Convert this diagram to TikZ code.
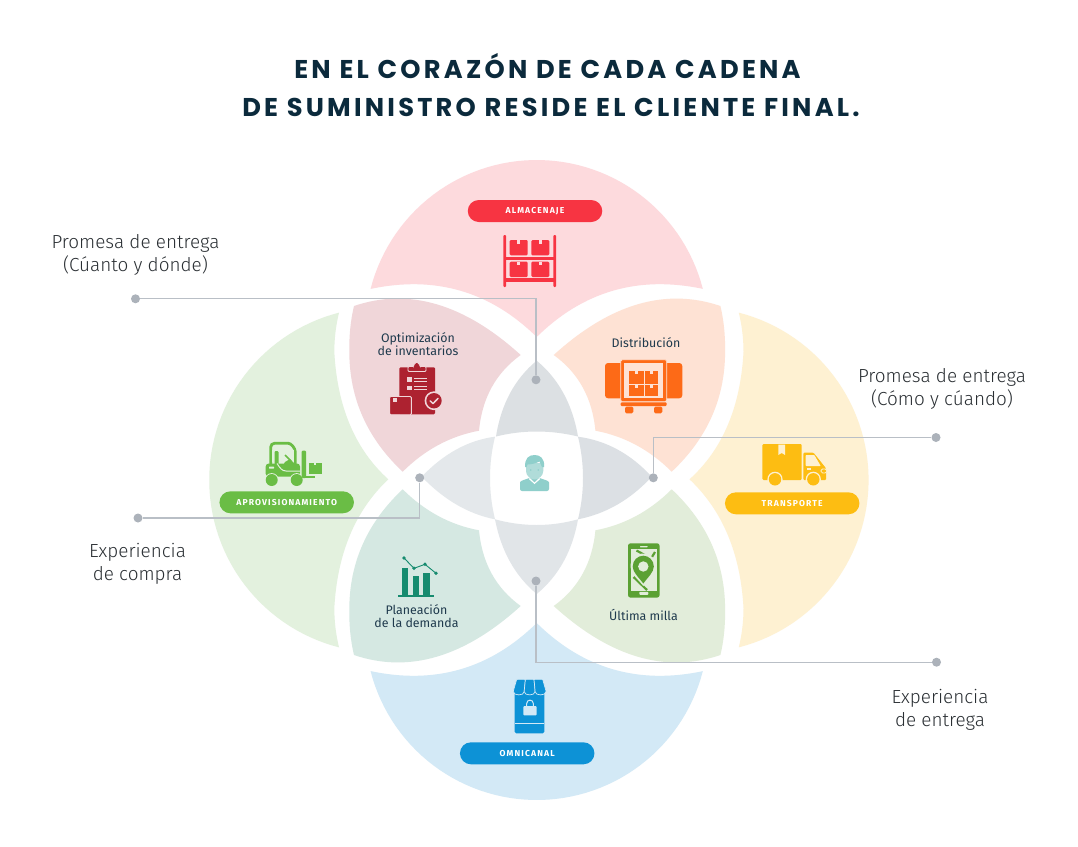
\documentclass[tikz,border=0pt]{standalone}
\usepackage{fontspec}
\setmainfont{Fira Sans}
\newfontfamily\lightfont{Fira Sans Light}
\newfontfamily\titlefont[LetterSpace=12.6]{Poppins}
\newfontfamily\pillfont[LetterSpace=13]{Fira Sans}
\definecolor{cpink}{HTML}{FDDADD}
\definecolor{cblue}{HTML}{D3E9F6}
\definecolor{cgreen}{HTML}{E3F1DE}
\definecolor{cyellow}{HTML}{FEF1D2}
\definecolor{coptim}{HTML}{F0D6D9}
\definecolor{cdist}{HTML}{FEE2D4}
\definecolor{cplan}{HTML}{D5E8E2}
\definecolor{cult}{HTML}{E2EDDA}
\definecolor{ltop}{HTML}{DCE0E3}
\definecolor{lright}{HTML}{DCE0E4}
\definecolor{lleft}{HTML}{E4E8EB}
\definecolor{lbot}{HTML}{E1E5E8}
\definecolor{cline}{HTML}{B9BFC6}
\definecolor{cdot}{HTML}{ACB2BA}
\definecolor{ink}{HTML}{0B2A3C}
\definecolor{lab}{HTML}{1F3A4D}
\definecolor{outer}{HTML}{2A2F33}
\definecolor{ired}{HTML}{F73442}
\definecolor{idark}{HTML}{AD2230}
\definecolor{iorange}{HTML}{FD6A17}
\definecolor{ilime}{HTML}{6ABD45}
\definecolor{iyellow}{HTML}{FDBD12}
\definecolor{iteal}{HTML}{168B6F}
\definecolor{iphone}{HTML}{5BA133}
\definecolor{iblue}{HTML}{0D92D6}
\definecolor{phair}{HTML}{8FCFCB}
\definecolor{pface}{HTML}{B0DCD9}
\def\qarc(#1,#2)(#3,#4)(#5,#6){.. controls ({4/3*#3-#5/3},{4/3*#4-#6/3}) and ({4/3*#3-#1/3},{4/3*#4-#2/3}) .. (#5,#6)}
\def\optimshape{(354,306) \qarc(354,306)(436.7,304.3)(520.7,355) \qarc(520.7,355)(491.7,387.3)(479,430.7) \qarc(479,430.7)(438.3,445)(402.7,471.7) \qarc(402.7,471.7)(362.7,416.7)(349.3,351.7) \qarc(349.3,351.7)(350.3,328)(354,306) -- cycle}
\def\petalshape{plot[domain=165.6:14.4,samples=60] ({536.7+171.5*cos(\x)},{331.5-171.5*sin(\x)}) \qarc(702.8,288.9)(613,290.7)(536.7,337) \qarc(536.7,337)(460.4,290.7)(370.7,288.9) -- cycle}
\def\sideshape{plot[domain=104.4:255.6,samples=60] ({382+172.8*cos(\x)},{480-172.8*sin(\x)}) \qarc(339,647.3)(335.5,628)(334.3,608.3) \qarc(334.3,608.3)(350,535)(388.3,479.3) \qarc(388.3,479.3)(350,425)(334.3,351.7) \qarc(334.3,351.7)(335.5,332)(339,312.7) -- cycle}
\usetikzlibrary{shapes.misc}
\tikzset{
 dot/.style={circle,fill=cdot,inner sep=0pt,minimum size=9pt},
 leader/.style={draw=cline,line width=1.3pt},
 pill/.style={rounded rectangle,minimum width=134.5pt,minimum height=22pt,inner sep=0pt,text=white,font=\pillfont\bfseries\fontsize{8.6}{10}\selectfont},
 outerlabel/.style={text=outer,align=center,inner sep=0pt,font=\lightfont\fontsize{18.9}{23.3}\selectfont},
 innerlabel/.style={text=lab,align=center,inner sep=0pt,font=\fontsize{12.4}{13}\selectfont},
 titleline/.style={text=ink,inner sep=0pt,anchor=base,font=\titlefont\bfseries\fontsize{25.7}{30}\selectfont},
}
\begin{document}
\begin{tikzpicture}[x=1pt,y=-1pt]
\useasboundingbox (0,0) rectangle (1078,846);
\fill[white] (0,0) rectangle (1078,846);
% regions
\fill[cpink] \petalshape;
\begin{scope}[cm={1,0,0,-1,(0,-960pt)}]\fill[cblue] \petalshape;\end{scope}
\fill[cgreen] \sideshape;
\begin{scope}[cm={-1,0,0,1,(1077.8pt,0)}]\fill[cyellow] \sideshape;\end{scope}
\fill[coptim] \optimshape;
\begin{scope}[cm={-1,0,0,1,(1074.4pt,0)}]\fill[cdist] \optimshape;\end{scope}
\begin{scope}[cm={1,0,0,-1,(0,-961pt)}]\fill[cplan] \optimshape;\end{scope}
\begin{scope}[cm={-1,0,0,-1,(1074.4pt,-961pt)}]\fill[cult] \optimshape;\end{scope}
% lenses
\fill[ltop] (536.7,360.7) \qarc(536.7,360.7)(510,393.3)(496,436.5) \qarc(496,436.5)(536.7,431.5)(578,436.5) \qarc(578,436.5)(563.5,393.3)(536.7,360.7) -- cycle;
\fill[lbot] (536.7,594) \qarc(536.7,594)(510,561.7)(495,519.3) \qarc(495,519.3)(536.7,525)(578,519.3) \qarc(578,519.3)(563.5,561.7)(536.7,594) -- cycle;
\fill[lleft] (421.7,476.7) \qarc(421.7,476.7)(456.7,449.3)(495,436.7) \qarc(495,436.7)(490,478)(495,519.3) \qarc(495,519.3)(456.7,504.7)(421.7,476.7) -- cycle;
\fill[lright] (651.7,476.7) \qarc(651.7,476.7)(617.5,449.5)(578,436.7) \qarc(578,436.7)(583,478)(578,519.3) \qarc(578,519.3)(617.5,504.5)(651.7,476.7) -- cycle;
% leaders
\node[dot] (a1) at (135.5,298.8) {};
\node[dot] (a2) at (536,379.8) {};
\node[dot] (b1) at (936,437.5) {};
\node[dot] (b2) at (653.3,477.8) {};
\node[dot] (c1) at (138,518) {};
\node[dot] (c2) at (419.7,477.8) {};
\node[dot] (d1) at (936.5,662.2) {};
\node[dot] (d2) at (536,581) {};
\draw[leader] (a1) -| (a2);
\draw[leader] (b1) -| (b2);
\draw[leader] (c1) -| (c2);
\draw[leader] (d1) -| (d2);
% shelf icon
\begin{scope}
\fill[ired,rounded corners=1pt] (503.3,235) rectangle (506.2,287);
\fill[ired,rounded corners=1pt] (553.3,235) rectangle (556.2,287);
\fill[ired] (506,256.7) rectangle (553.5,260);
\fill[ired] (506,278.3) rectangle (553.5,281.7);
\foreach \bx in {509.7,531.3}{\foreach \by in {240,261.7}{
 \fill[ired,rounded corners=1.2pt] (\bx,\by) rectangle ({\bx+18},{\by+15.3});
 \fill[cpink] ({\bx+7.6},\by) rectangle ({\bx+10.6},{\by+3.6});
}}
\end{scope}
% clipboard icon
\begin{scope}
\fill[idark,rounded corners=1.2pt] (399.3,367.3) rectangle (435,414.3);
\draw[coptim,line width=.8pt,fill=idark,rounded corners=1pt] (408,371.5) -- (408,366.5) -- (413.5,366.5) -- (413.5,365) -- (416.7,361.8) -- (420,365) -- (420,366.5) -- (426,366.5) -- (426,371.5) -- cycle;
\fill[coptim] (406.7,377.3) rectangle (411.7,381.7);
\fill[coptim] (406.7,385.7) rectangle (411.7,390);
\fill[coptim] (414,378) rectangle (426.7,379);
\fill[coptim] (414,380.6) rectangle (426.7,381.6);
\fill[coptim] (414,386.3) rectangle (426.7,387.3);
\fill[coptim] (414,388.9) rectangle (426.7,389.9);
\draw[coptim,line width=.9pt,fill=idark,rounded corners=1.2pt] (389.6,396.5) rectangle (411.4,414.7);
\fill[coptim] (393.3,398.3) rectangle (397.3,402.3);
\fill[coptim] (434,400.7) circle[radius=9.4pt];
\fill[idark] (434,400.7) circle[radius=7.7pt];
\draw[coptim,line width=1.5pt,line cap=round,line join=round] (430.2,400.9) -- (433,403.6) -- (438,398.4);
\end{scope}
% distribution icon
\begin{scope}
\fill[iorange,rounded corners=3pt] (605,363) rectangle (623,398.3);
\fill[iorange,rounded corners=3pt] (664,363) rectangle (682.3,398.3);
\draw[cdist,line width=.6pt,fill=iorange,rounded corners=1.5pt] (620.7,359.7) rectangle (666.7,401.7);
\fill[cdist] (624,363) rectangle (663.3,398.3);
\fill[iorange] (629.3,371) rectangle (643.7,383.7);
\fill[iorange] (644.7,371) rectangle (658,383.7);
\fill[iorange] (629.3,385) rectangle (643.7,396.3);
\fill[iorange] (644.7,385) rectangle (658,396.3);
\foreach \tx in {635,650}{\fill[cdist] (\tx,371) rectangle ({\tx+2.7},374);\fill[cdist] (\tx,385) rectangle ({\tx+2.7},388);}
\fill[iorange,rounded corners=1pt] (620.7,402.3) rectangle (666.7,406);
\fill[iorange,rounded corners=1.5pt] (625,406.5) rectangle (633.3,413.3);
\fill[iorange,rounded corners=1.5pt] (654,406.5) rectangle (662.3,413.3);
\end{scope}
% forklift icon
\begin{scope}
\draw[ilime,line width=2.8pt,rounded corners=4pt] (270.7,464) -- (270.7,443.2) -- (284,443.2) .. controls (291,443.2) and (295.3,448) .. (295.3,456) -- (295.3,470);
\fill[ilime,rounded corners=3pt] (265.7,476.7) -- (265.7,463.5) -- (300,463.5) -- (300,476.7) -- cycle;
\fill[cgreen] (272,450) -- (293.6,450) -- (293.6,462) -- (272,462) -- cycle;
\fill[ilime,rounded corners=1pt] (274.5,451) rectangle (278.5,466);
\fill[ilime] (281,469) -- (285,462) -- (290,459) -- (294,463) -- (294,469) -- cycle;
\draw[ilime,line width=1.6pt] (285,455) -- (291,461);
\draw[cgreen,line width=1pt] (277,463.5) .. controls (280,468) and (282,471) .. (286,471) -- (300,471);
\fill[cgreen,rounded corners=.5pt] (269,466.5) rectangle (274,468.5);
\fill[cgreen] (271.7,480) circle[radius=6.9pt];
\fill[cgreen] (296.7,480) circle[radius=6.9pt];
\fill[ilime] (271.7,480) circle[radius=6pt];
\fill[ilime] (296.7,480) circle[radius=6pt];
\fill[ilime,rounded corners=1pt] (301.7,450.7) rectangle (306,478);
\fill[ilime] (305,476) rectangle (315,478);
\fill[ilime] (309.3,462.7) rectangle (321.7,474.3);
\fill[cgreen] (314.2,462.7) rectangle (316.2,465.2);
\end{scope}
% truck icon
\begin{scope}
\fill[iyellow,rounded corners=1.2pt] (762.3,444) rectangle (801.7,480);
\fill[cyellow] (778.3,444.6) -- (785,444.6) -- (785,455) -- (781.7,453) -- (778.3,455) -- cycle;
\fill[iyellow,rounded corners=1pt] (803.3,452.7) -- (813.5,452.7) -- (826,468.3) -- (826,480) -- (803.3,480) -- cycle;
\fill[cyellow,rounded corners=.6pt] (805.7,455) -- (814.3,455) -- (820.7,466) -- (805.7,466) -- cycle;
\draw[cyellow,line width=.8pt,fill=iyellow,rounded corners=1.5pt] (821,469) rectangle (826.7,472.9);
\fill[cyellow] (806.7,468.3) rectangle (810.7,470);
\fill[cyellow] (775,479.3) circle[radius=7.6pt];
\fill[cyellow] (813.3,479.3) circle[radius=7.6pt];
\fill[iyellow] (775,479.3) circle[radius=6.2pt];
\fill[iyellow] (813.3,479.3) circle[radius=6.2pt];
\end{scope}
% chart icon
\begin{scope}
\fill[iteal] (401.7,567.7) rectangle (408.3,596);
\fill[iteal] (412.7,575.7) rectangle (419,596);
\fill[iteal] (423.3,573.3) rectangle (430,596);
\fill[iteal] (398.3,595) rectangle (434.3,597);
\draw[iteal,line width=.9pt] (404,558) -- (414,568.3) -- (425,564.3) -- (436,573.3);
\foreach \p in {(404,558),(414,568.3),(425,564.3),(436,573.3)}{\fill[iteal] \p circle[radius=1.9pt];}
\end{scope}
% phone icon
\begin{scope}
\fill[iphone,rounded corners=2.5pt] (628,543.3) rectangle (659.6,597.6);
\fill[cult] (630.5,549.3) rectangle (657.2,590.7);
\fill[cult,rounded corners=.5pt] (640,546) rectangle (647.5,547.3);
\fill[cult,rounded corners=.8pt] (639.3,591.8) rectangle (648.3,594.8);
\draw[iphone,line width=2.2pt] (636.5,550.5) -- (646.5,556);
\draw[iphone,line width=2.2pt] (652,557) -- (655,552);
\draw[iphone,line width=2.2pt] (633.5,577) -- (647,590);
\fill[cult] (643.3,586) .. controls (637,578) and (630.5,573) .. (630.5,566.5) .. controls (630.5,559) and (636,553.5) .. (643.3,553.5) .. controls (650.5,553.5) and (656,559) .. (656,566.5) .. controls (656,573) and (649.5,578) .. (643.3,586) -- cycle;
\fill[iphone] (643.3,583.5) .. controls (638,576.5) and (632.7,572) .. (632.7,566.5) .. controls (632.7,560.5) and (637.5,555.7) .. (643.3,555.7) .. controls (649,555.7) and (653.8,560.5) .. (653.8,566.5) .. controls (653.8,572) and (648.5,576.5) .. (643.3,583.5) -- cycle;
\fill[cult] (643.3,566.5) circle[radius=5.2pt];
\end{scope}
% store icon
\begin{scope}
\fill[iblue,rounded corners=1.5pt] (514.7,690) rectangle (544.3,733.3);
\fill[cblue] (514.7,722.8) rectangle (544.3,723.8);
\foreach \xa/\xb/\ya/\yb in {516.7/525.4/513.3/524.2,525.4/534/524.2/535.1,534/542.7/535.1/546}{
 \draw[cblue,line width=.7pt,fill=iblue,rounded corners=.6pt] (\xa,679.3) -- (\xb,679.3) -- (\yb,691) .. controls (\yb,696) and (\ya,696) .. (\ya,691) -- cycle;
}
\fill[cblue,rounded corners=.8pt] (523.3,706.2) rectangle (536.7,715.3);
\draw[cblue,line width=1pt] (526.7,706.5) -- (526.7,703.5) .. controls (526.7,699) and (533.3,699) .. (533.3,703.5) -- (533.3,706.5);
\end{scope}
% person icon
\begin{scope}
\fill[phair,rounded corners=2pt] (520,491) -- (520,484.5) .. controls (520,480.5) and (526,479.5) .. (530,477.5) -- (539,477.5) .. controls (543,479.5) and (549,480.5) .. (549,484.5) -- (549,491) -- cycle;
\fill[white] (529.8,478) -- (534.5,482.5) -- (539.2,478) -- (540.2,479) -- (534.5,484) -- (528.8,479) -- cycle;
\fill[pface] (526,463) -- (543.3,463) -- (543.3,471) .. controls (543.3,476) and (538,479.5) .. (534.6,479.5) .. controls (531,479.5) and (526,476) .. (526,471) -- cycle;
\fill[phair] (525.2,467) .. controls (524.5,458) and (529,455) .. (534.6,455) .. controls (540,455) and (544.6,458) .. (544.2,467) -- (542,467) -- (539.5,461.5) .. controls (536,463.5) and (530,464.5) .. (527.5,464.5) -- (526.5,467) -- cycle;
\fill[phair] (530.7,470) circle[radius=.9pt];
\fill[phair] (538.3,470) circle[radius=.9pt];
\end{scope}
% pills
\node[pill,fill=ired] (p1) at (535,211) {ALMACENAJE};
\node[pill,fill=iblue] (p2) at (527.2,753.3) {OMNICANAL};
\node[pill,fill=ilime] (p3) at (286.7,502.3) {APROVISIONAMIENTO};
\node[pill,fill=iyellow] (p4) at (792.2,503.3) {TRANSPORTE};
% inner labels
\node[innerlabel] (t1) at (418,344.5) {Optimización\\de inventarios};
\node[innerlabel] (t2) at (646,343) {Distribución};
\node[innerlabel] (t3) at (416.5,616.5) {Planeación\\de la demanda};
\node[innerlabel] (t4) at (643.5,615) {Última milla};
% outer labels
\node[outerlabel] (o1) at (135.5,255) {Promesa de entrega\\(Cúanto y dónde)};
\node[outerlabel] (o2) at (942,389) {Promesa de entrega\\(Cómo y cúando)};
\node[outerlabel] (o3) at (137.5,563.5) {Experiencia\\de compra};
\node[outerlabel] (o4) at (940,709.5) {Experiencia\\de entrega};
% title
\node[titleline] (h1) at (547.5,78.5) {EN EL CORAZÓN DE CADA CADENA};
\node[titleline] (h2) at (551,116.5) {DE SUMINISTRO RESIDE EL CLIENTE FINAL.};
\end{tikzpicture}
\end{document}
